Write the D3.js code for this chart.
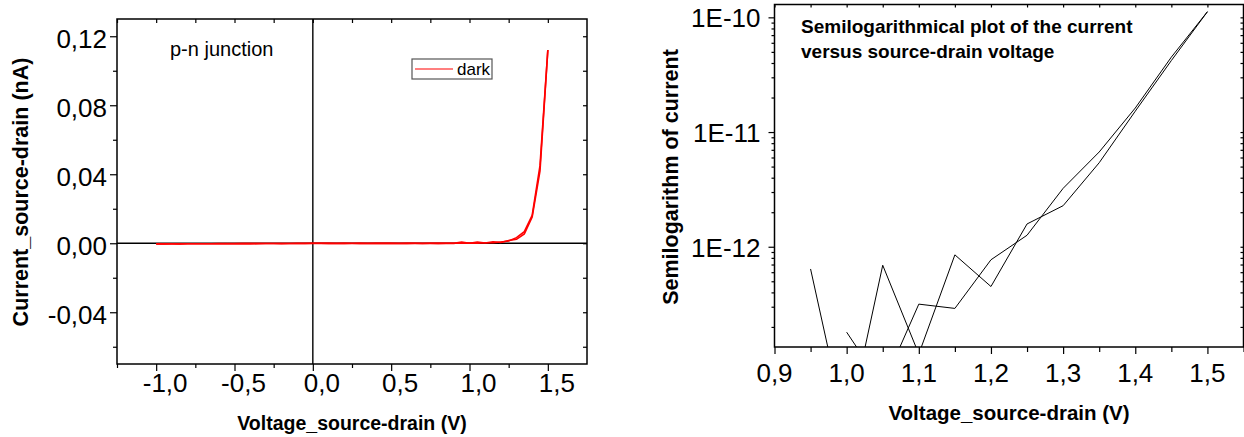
<!DOCTYPE html>
<html>
<head>
<meta charset="utf-8">
<script src="https://cdn.jsdelivr.net/npm/d3@7"></script>
<style>
  body { margin: 0; background: #fff; }
  svg { display: block; font-family: Arial, "Liberation Sans", sans-serif; }
</style>
</head>
<body>
<svg id="chart" width="1244" height="437"></svg>
<script>
// source-drain voltage (V)
const voltage = [
  -1.00, -0.95, -0.90, -0.85, -0.80, -0.75, -0.70, -0.65, -0.60, -0.55,
  -0.50, -0.45, -0.40, -0.35, -0.30, -0.25, -0.20, -0.15, -0.10, -0.05,
  0.00, 0.05, 0.10, 0.15, 0.20, 0.25, 0.30, 0.35, 0.40, 0.45,
  0.50, 0.55, 0.60, 0.65, 0.70, 0.75, 0.80, 0.85, 0.90, 0.95,
  1.00, 1.05, 1.10, 1.15, 1.20, 1.25, 1.30, 1.35, 1.40, 1.45,
  1.50
];

// current (A), forward sweep
const currentForward = [
  -4.1e-13, -3.8e-13, -3.6e-13, -3.9e-13, -3.3e-13, -3.0e-13, -3.2e-13, -2.7e-13, -2.9e-13, -2.4e-13,
  -2.6e-13, -2.2e-13, -2.0e-13, -2.3e-13, -1.8e-13, -1.6e-13, -1.9e-13, -1.3e-13, -1.1e-13, -0.7e-13,
  -0.4e-13, -0.9e-13, -0.6e-13, -1.2e-13, -0.8e-13, -1.5e-13, -0.5e-13, -1.0e-13, -0.3e-13, -0.9e-13,
  -0.6e-13, -1.4e-13, -0.7e-13, -0.2e-13, -1.1e-13, -0.5e-13, -0.8e-13, -0.3e-13, -0.6e-13, 6.4e-13,
  2.4e-14, 6.9e-13, 1.16e-13, 8.5e-13, 4.5e-13, 1.58e-12, 2.28e-12, 5.4e-12, 1.52e-11, 4.2e-11,
  1.12e-10
];

// current (A), reverse sweep
const currentReverse = [
  -3.5e-13, -3.7e-13, -3.1e-13, -3.4e-13, -2.8e-13, -3.0e-13, -2.5e-13, -2.8e-13, -2.3e-13, -2.6e-13,
  -2.1e-13, -1.9e-13, -2.2e-13, -1.7e-13, -1.5e-13, -1.8e-13, -1.2e-13, -1.4e-13, -0.9e-13, -1.1e-13,
  -0.6e-13, -0.3e-13, -0.8e-13, -0.5e-13, -1.0e-13, -0.4e-13, -0.7e-13, -1.2e-13, -0.5e-13, -0.9e-13,
  -0.2e-13, -0.6e-13, -1.0e-13, -0.4e-13, -0.8e-13, -0.3e-13, -0.7e-13, -0.5e-13, -0.2e-13, -0.4e-13,
  1.8e-13, 6.1e-14, 3.16e-13, 2.9e-13, 7.7e-13, 1.26e-12, 3.23e-12, 6.7e-12, 1.62e-11, 4.5e-11,
  1.12e-10
];

const linTicksX = [-1.0, -0.5, 0.0, 0.5, 1.0, 1.5];
const linMinorX = [-1.25, -0.75, -0.25, 0.25, 0.75, 1.25];
const linTicksY = [-0.04, 0.0, 0.04, 0.08, 0.12];
const linMinorY = [-0.06, -0.02, 0.02, 0.06, 0.10];
const logTicksX = [0.9, 1.0, 1.1, 1.2, 1.3, 1.4, 1.5];
const logMinorX = [0.95, 1.05, 1.15, 1.25, 1.35, 1.45, 1.55];
const logTicksY = [1e-12, 1e-11, 1e-10];
const logTickLabels = ["1E-12", "1E-11", "1E-10"];

const locale = d3.formatLocale({ decimal: ",", thousands: ".", grouping: [3], currency: ["", ""], minus: "-" });
const fmt1 = locale.format(".1f");
const fmt2 = locale.format(".2f");

const svg = d3.select("#chart");

const forward = voltage.map((v, i) => ({ v, i: currentForward[i] }));
const reverse = voltage.map((v, i) => ({ v, i: currentReverse[i] }));

// ---------- left panel: linear ----------
const L = { left: 117, right: 587, top: 19, bottom: 364 };
const xL = d3.scaleLinear().domain([-1.25, 1.75]).range([L.left, L.right]);
const yL = d3.scaleLinear().domain([-0.07, 0.13]).range([L.bottom, L.top]);

const gL = svg.append("g");

function addAxis(g, axis, transform) {
  const a = g.append("g").attr("transform", transform).call(axis);
  a.select(".domain").remove();
  a.selectAll("line").attr("stroke", "#000").attr("stroke-width", 1.2);
  a.selectAll("text").remove();
  return a;
}

addAxis(gL, d3.axisLeft(yL).tickValues(linTicksY).tickSize(7), `translate(${L.left},0)`);
addAxis(gL, d3.axisLeft(yL).tickValues(linMinorY).tickSize(4), `translate(${L.left},0)`);
addAxis(gL, d3.axisBottom(xL).tickValues(linTicksX).tickSize(7), `translate(0,${L.bottom})`);
addAxis(gL, d3.axisBottom(xL).tickValues(linMinorX).tickSize(4), `translate(0,${L.bottom})`);
addAxis(gL, d3.axisTop(xL).tickValues(linTicksX.concat(linMinorX)).tickSize(-4), `translate(0,${L.top})`);
addAxis(gL, d3.axisRight(yL).tickValues(linTicksY.concat(linMinorY)).tickSize(-4), `translate(${L.right},0)`);

// zero lines
gL.append("line")
  .attr("x1", L.left).attr("x2", L.right)
  .attr("y1", yL(0)).attr("y2", yL(0))
  .attr("stroke", "#000").attr("stroke-width", 1.4);
gL.append("line")
  .attr("x1", xL(0)).attr("x2", xL(0))
  .attr("y1", L.top).attr("y2", L.bottom)
  .attr("stroke", "#000").attr("stroke-width", 1.4);

const lineL = d3.line().x((d) => xL(d.v)).y((d) => yL(d.i * 1e9));
[forward, reverse].forEach((s) => {
  gL.append("path")
    .datum(s)
    .attr("fill", "none")
    .attr("stroke", "#ff0000")
    .attr("stroke-width", 1.6)
    .attr("d", lineL);
});

gL.append("rect")
  .attr("x", L.left).attr("y", L.top)
  .attr("width", L.right - L.left).attr("height", L.bottom - L.top)
  .attr("fill", "none").attr("stroke", "#000").attr("stroke-width", 1.5);

gL.selectAll(".ylab")
  .data(linTicksY)
  .enter().append("text")
  .attr("x", L.left - 10)
  .attr("y", (d) => yL(d) + 11.5)
  .attr("text-anchor", "end")
  .attr("font-size", 26)
  .text((d) => fmt2(d));

gL.selectAll(".xlab")
  .data(linTicksX)
  .enter().append("text")
  .attr("x", (d) => xL(d) + 9)
  .attr("y", L.bottom + 28)
  .attr("text-anchor", "middle")
  .attr("font-size", 26)
  .text((d) => fmt1(d));

gL.append("text")
  .attr("x", (L.left + L.right) / 2)
  .attr("y", 430)
  .attr("text-anchor", "middle")
  .attr("font-size", 19.5)
  .attr("font-weight", "bold")
  .text("Voltage_source-drain (V)");

gL.append("text")
  .attr("transform", "translate(28,192) rotate(-90)")
  .attr("text-anchor", "middle")
  .attr("font-size", 21.5)
  .attr("font-weight", "bold")
  .text("Current_source-drain (nA)");

gL.append("text")
  .attr("x", 170)
  .attr("y", 56)
  .attr("font-size", 20)
  .text("p-n junction");

// legend
const leg = gL.append("g");
leg.append("rect")
  .attr("x", 412).attr("y", 59)
  .attr("width", 80).attr("height", 20)
  .attr("fill", "#fff").attr("stroke", "#555").attr("stroke-width", 1.2);
leg.append("line")
  .attr("x1", 415).attr("x2", 453)
  .attr("y1", 69).attr("y2", 69)
  .attr("stroke", "#ff0000").attr("stroke-width", 1.2);
leg.append("text")
  .attr("x", 457).attr("y", 75)
  .attr("font-size", 17)
  .text("dark");

// ---------- right panel: semilog ----------
const R = { left: 774.5, right: 1243.5, top: 4.5, bottom: 347 };
const xR = d3.scaleLinear().domain([0.9, 1.55]).range([R.left, R.right]);
const yR = d3.scaleLog().domain([Math.pow(10, -12.874), Math.pow(10, -9.888)]).range([R.bottom, R.top]);
const logMinorY = yR.ticks().filter((t) => Math.abs(Math.log10(t) - Math.round(Math.log10(t))) > 1e-6);

const gR = svg.append("g");

svg.append("defs").append("clipPath").attr("id", "clipR")
  .append("rect")
  .attr("x", R.left).attr("y", R.top)
  .attr("width", R.right - R.left).attr("height", R.bottom - R.top);

addAxis(gR, d3.axisLeft(yR).tickValues(logTicksY).tickSize(6), `translate(${R.left},0)`);
addAxis(gR, d3.axisLeft(yR).tickValues(logMinorY).tickSize(3), `translate(${R.left},0)`);
addAxis(gR, d3.axisBottom(xR).tickValues(logTicksX).tickSize(7), `translate(0,${R.bottom})`);
addAxis(gR, d3.axisBottom(xR).tickValues(logMinorX).tickSize(5), `translate(0,${R.bottom})`);
addAxis(gR, d3.axisTop(xR).tickValues(logTicksX.concat(logMinorX)).tickSize(-3), `translate(0,${R.top})`);
addAxis(gR, d3.axisRight(yR).tickValues(logTicksY.concat(logMinorY)).tickSize(-3), `translate(${R.right},0)`);

const lineR = d3.line()
  .defined((d) => d.i > 0 && d.v >= 0.9)
  .x((d) => xR(d.v))
  .y((d) => yR(d.i));

[forward, reverse].forEach((s) => {
  gR.append("path")
    .datum(s)
    .attr("clip-path", "url(#clipR)")
    .attr("fill", "none")
    .attr("stroke", "#000")
    .attr("stroke-width", 1)
    .attr("d", lineR);
});

gR.append("rect")
  .attr("x", R.left).attr("y", R.top)
  .attr("width", R.right - R.left).attr("height", R.bottom - R.top)
  .attr("fill", "none").attr("stroke", "#000").attr("stroke-width", 1.5);

gR.selectAll(".ylab")
  .data(logTicksY)
  .enter().append("text")
  .attr("x", R.left - 14)
  .attr("y", (d) => yR(d) + 10)
  .attr("text-anchor", "end")
  .attr("font-size", 26)
  .text((d, i) => logTickLabels[i]);

gR.selectAll(".xlab")
  .data(logTicksX)
  .enter().append("text")
  .attr("x", (d) => xR(d))
  .attr("y", R.bottom + 34.5)
  .attr("text-anchor", "middle")
  .attr("font-size", 26)
  .text((d) => fmt1(d));

gR.append("text")
  .attr("x", (R.left + R.right) / 2)
  .attr("y", 420)
  .attr("text-anchor", "middle")
  .attr("font-size", 20.5)
  .attr("font-weight", "bold")
  .text("Voltage_source-drain (V)");

gR.append("text")
  .attr("transform", "translate(678,177) rotate(-90)")
  .attr("text-anchor", "middle")
  .attr("font-size", 21.5)
  .attr("font-weight", "bold")
  .text("Semilogarithm of current");

const note = gR.append("text")
  .attr("font-size", 19)
  .attr("font-weight", "bold");
note.append("tspan").attr("x", 801).attr("y", 33).text("Semilogarithmical plot of the current");
note.append("tspan").attr("x", 801).attr("y", 58).text("versus source-drain voltage");
</script>
</body>
</html>
